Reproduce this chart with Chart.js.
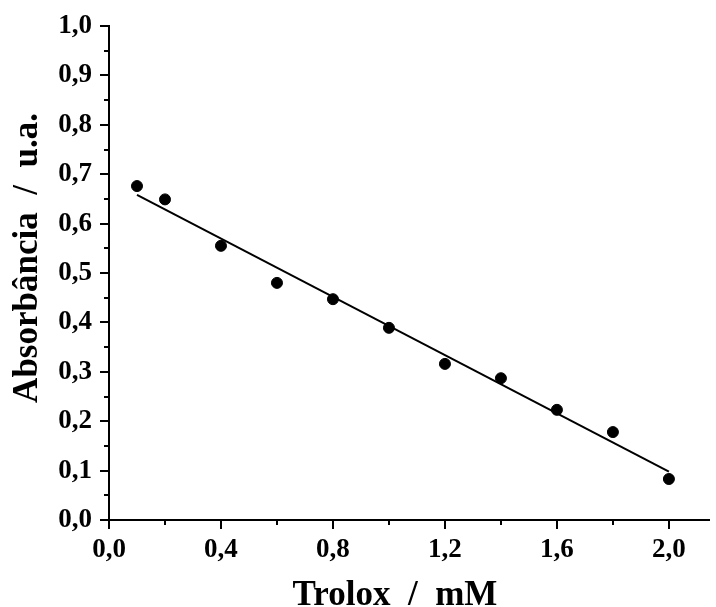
<!DOCTYPE html>
<html>
<head>
<meta charset="utf-8">
<script src="https://cdn.jsdelivr.net/npm/chart.js@4/dist/chart.umd.min.js"></script>
<style>
  html, body { margin: 0; padding: 0; background: #fff; overflow: hidden; }
  canvas { display: block; }
</style>
</head>
<body>
<canvas id="c" width="716" height="607"></canvas>
<script>
// measured points (Trolox mM vs absorbance)
const troloxConc = [0.1, 0.2, 0.4, 0.6, 0.8, 1.0, 1.2, 1.4, 1.6, 1.8, 2.0];
const absorbance = [0.676, 0.649, 0.555, 0.480, 0.447, 0.389, 0.316, 0.287, 0.223, 0.178, 0.083];

// linear fit end points
const fitX = [0.1, 2.0];
const fitY = [0.658, 0.098];

const xTicks = [0, 0.4, 0.8, 1.2, 1.6, 2.0];
const xTickLabels = ['0,0', '0,4', '0,8', '1,2', '1,6', '2,0'];
const yTicks = [0, 0.1, 0.2, 0.3, 0.4, 0.5, 0.6, 0.7, 0.8, 0.9, 1.0];
const yTickLabels = ['0,0', '0,1', '0,2', '0,3', '0,4', '0,5', '0,6', '0,7', '0,8', '0,9', '1,0'];

const xTitle = 'Trolox  /  mM';
const yTitle = 'Absorbância  /  u.a.';

const serif = '"Liberation Serif", "Times New Roman", serif';

// Origin-style outward ticks (major + minor) and axis titles
const originAxes = {
  id: 'originAxes',
  afterDraw(chart) {
    const ctx = chart.ctx;
    const xs = chart.scales.x, ys = chart.scales.y;
    ctx.save();
    ctx.strokeStyle = '#000';
    ctx.lineWidth = 2;
    ctx.beginPath();
    for (let i = 0; i <= 10; i++) {
      const px = Math.round(xs.getPixelForValue(i * 0.2));
      const len = i % 2 === 0 ? 9 : 5;
      ctx.moveTo(px, xs.top);
      ctx.lineTo(px, xs.top + len);
    }
    for (let i = 0; i <= 20; i++) {
      const py = Math.round(ys.getPixelForValue(i * 0.05));
      const len = i % 2 === 0 ? 9 : 5;
      ctx.moveTo(ys.right, py);
      ctx.lineTo(ys.right - len, py);
    }
    ctx.stroke();

    // titles sit a bit left/up of the axis centre, like the original
    ctx.fillStyle = '#000';
    ctx.font = 'bold 35px ' + serif;
    ctx.textAlign = 'center';
    ctx.textBaseline = 'alphabetic';
    ctx.fillText(xTitle, 395, xs.bottom - 2);

    ctx.translate(ys.left + 37, 258);
    ctx.rotate(-Math.PI / 2);
    ctx.fillText(yTitle, 0, 0);
    ctx.restore();
  }
};

new Chart(document.getElementById('c'), {
  type: 'scatter',
  data: {
    datasets: [
      {
        label: 'fit',
        type: 'line',
        data: fitX.map((x, i) => ({ x: x, y: fitY[i] })),
        borderColor: '#000',
        borderWidth: 2,
        pointRadius: 0,
        fill: false
      },
      {
        label: 'data',
        data: troloxConc.map((x, i) => ({ x: x, y: absorbance[i] })),
        backgroundColor: '#000',
        borderColor: '#000',
        pointRadius: 5.5,
        pointHoverRadius: 5.5
      }
    ]
  },
  options: {
    responsive: false,
    animation: false,
    layout: { padding: { top: 26, right: 0, bottom: 0, left: 0 } },
    plugins: { legend: { display: false }, tooltip: { enabled: false } },
    scales: {
      x: {
        type: 'linear',
        min: 0, max: 2.145,
        afterBuildTicks: (s) => { s.ticks = xTicks.map(v => ({ value: v })); },
        afterFit: (s) => { s.height = 87; s.paddingRight = 0; s.paddingLeft = 0; },
        grid: { display: false, drawTicks: false },
        border: { display: true, color: '#000', width: 2 },
        ticks: {
          padding: 14,
          color: '#000',
          font: { family: serif, size: 27, weight: 'bold' },
          callback: (v) => xTickLabels[xTicks.findIndex(t => Math.abs(t - v) < 1e-6)]
        }
      },
      y: {
        min: 0, max: 1.0,
        afterBuildTicks: (s) => { s.ticks = yTicks.map(v => ({ value: v })); },
        afterFit: (s) => { s.width = 109; s.paddingTop = 0; s.paddingBottom = 0; },
        grid: { display: false, drawTicks: false },
        border: { display: true, color: '#000', width: 2 },
        ticks: {
          padding: 17,
          color: '#000',
          font: { family: serif, size: 27, weight: 'bold' },
          callback: (v) => yTickLabels[yTicks.findIndex(t => Math.abs(t - v) < 1e-6)]
        }
      }
    }
  },
  plugins: [originAxes]
});
</script>
</body>
</html>
